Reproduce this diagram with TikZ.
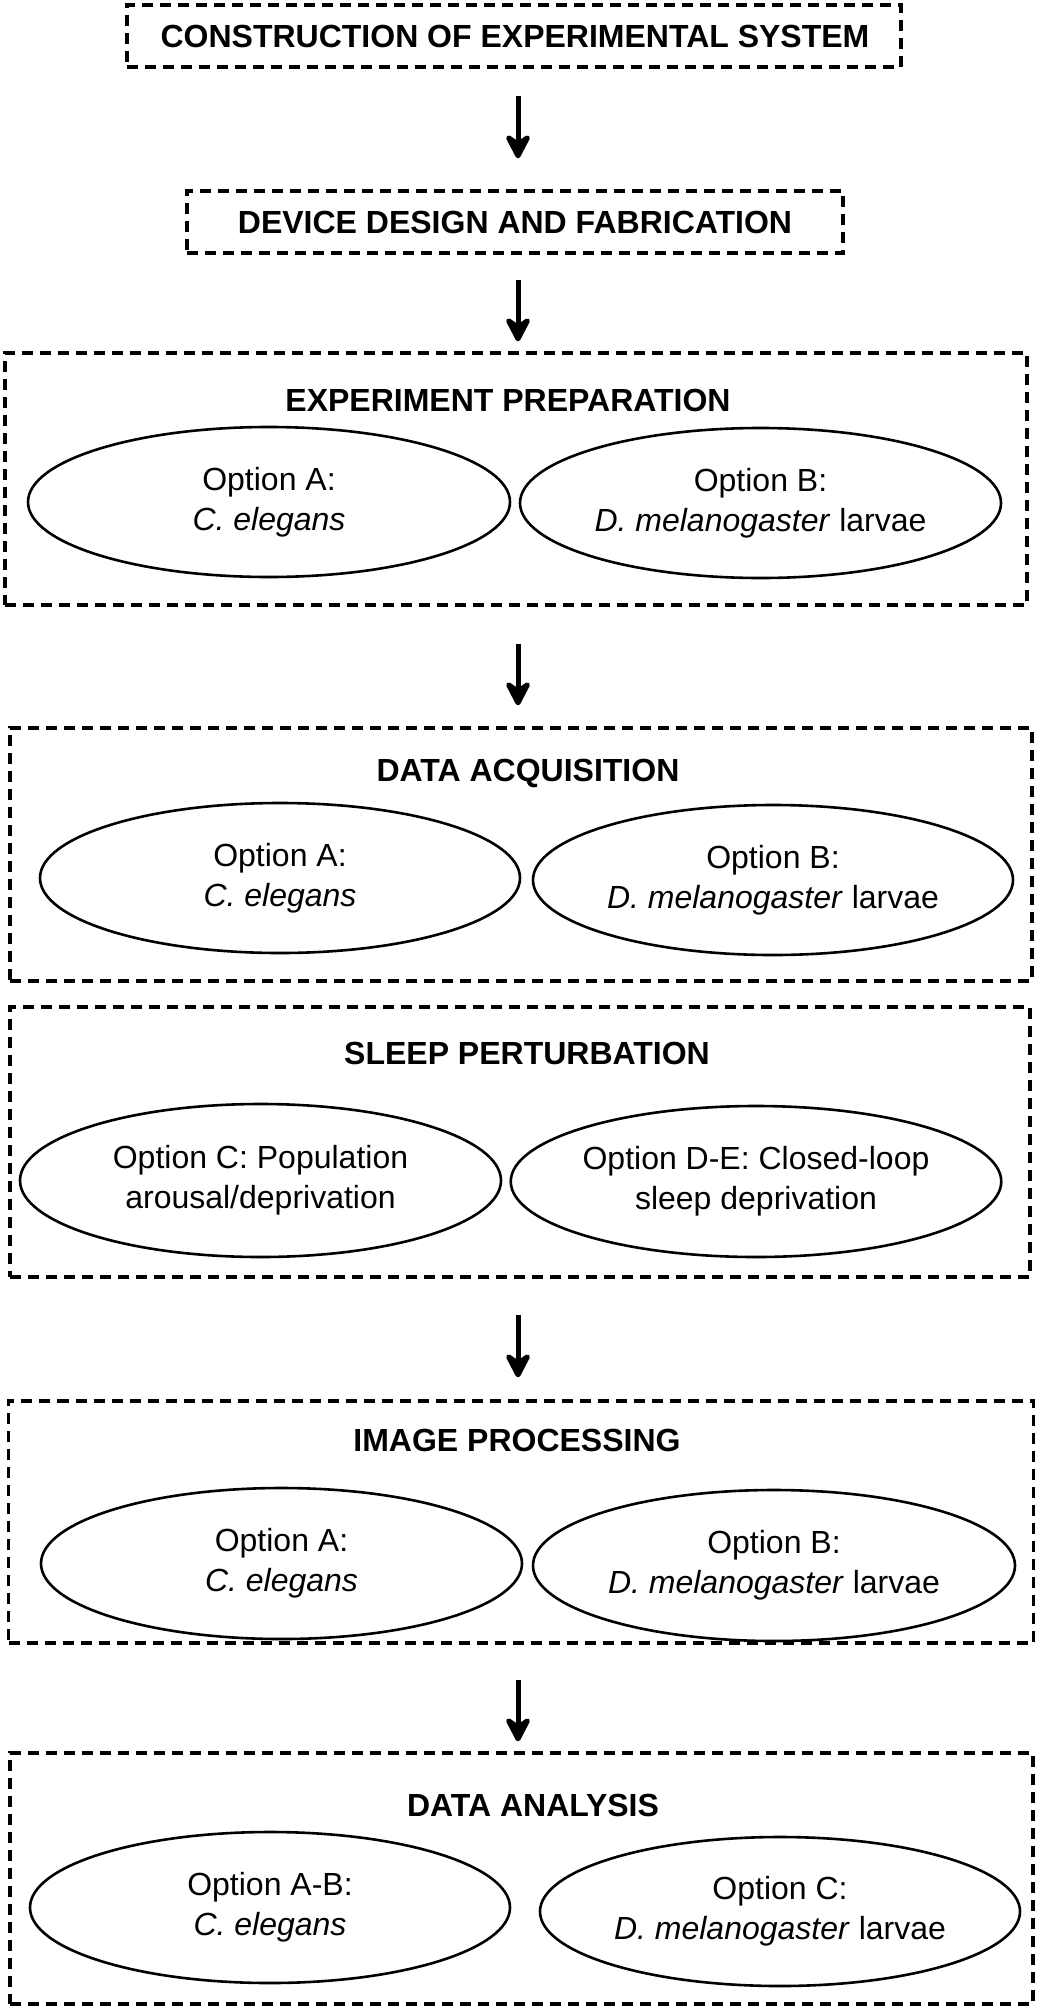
\documentclass[tikz,border=0pt]{standalone}
\usepackage{fontspec}
\setmainfont{Liberation Sans}
\usetikzlibrary{shapes.geometric,arrows.meta,calc}
\newcommand\myoptfont{\fontsize{32}{40}\selectfont}
\newcommand\myttlfont{\fontsize{32}{40}\selectfont\bfseries}
\begin{document}
\begin{tikzpicture}[x=1pt,y=-1pt,
  dbox/.style={draw, rectangle, line width=3.3pt, dash pattern=on 11pt off 7pt, inner sep=0pt},
  opt/.style={draw, ellipse, line width=2.6pt, inner sep=0pt, align=center, font=\myoptfont},
  ttl/.style={anchor=base, inner sep=0pt, font=\myttlfont},
  arr/.style={line width=5pt, -{Stealth[length=31pt,width=32pt,inset=11pt,round]}}]
\useasboundingbox (0,0) rectangle (1036,2010);
\coordinate (ax) at (518,0);

% boxes
\node[dbox, minimum width=774pt, minimum height=62pt] (b1) at (514,36) {};
\node[dbox, minimum width=656pt, minimum height=62pt] (b2) at (515,222) {};
\node[dbox, minimum width=1022pt, minimum height=252pt] (b3) at (516,479) {};
\node[dbox, minimum width=1022pt, minimum height=253pt] (b4) at (521,854.5) {};
\node[dbox, minimum width=1020pt, minimum height=270pt] (b5) at (520,1142) {};
\node[dbox, minimum width=1025pt, minimum height=242pt] (b6) at (521,1522) {};
\node[dbox, minimum width=1023pt, minimum height=251pt] (b7) at (521.5,1878.5) {};

% titles
\node[ttl] (t1) at (515,47.5) {CONSTRUCTION OF EXPERIMENTAL SYSTEM};
\node[ttl] (t2) at (515,233.5) {DEVICE DESIGN AND FABRICATION};
\node[ttl] (t3) at (508,411.5) {EXPERIMENT PREPARATION};
\node[ttl] (t4) at (528,781.5) {DATA ACQUISITION};
\node[ttl] (t5) at (527,1064.5) {SLEEP PERTURBATION};
\node[ttl] (t6) at (517,1451.5) {IMAGE PROCESSING};
\node[ttl] (t7) at (533,1816.5) {DATA ANALYSIS};

% ellipses
\node[opt, minimum width=482pt, minimum height=150pt] (e3l) at (269,502) {Option A:\\\textit{C. elegans}};
\node[opt, minimum width=481pt, minimum height=150pt] (e3r) at (760.5,503) {Option B:\\\textit{D. melanogaster} larvae};
\node[opt, minimum width=480pt, minimum height=150pt] (e4l) at (280,878) {Option A:\\\textit{C. elegans}};
\node[opt, minimum width=480pt, minimum height=150pt] (e4r) at (773,880) {Option B:\\\textit{D. melanogaster} larvae};
\node[opt, minimum width=481pt, minimum height=153pt] (e5l) at (260.5,1180.5) {Option C: Population\\arousal/deprivation};
\node[opt, minimum width=482pt, minimum height=151pt] (e5r) at (756,1181.5) {Option D-E: Closed-loop\\sleep deprivation};
\node[opt, minimum width=481pt, minimum height=151pt] (e6l) at (281.5,1563.5) {Option A:\\\textit{C. elegans}};
\node[opt, minimum width=482pt, minimum height=151pt] (e6r) at (774,1565.5) {Option B:\\\textit{D. melanogaster} larvae};
\node[opt, minimum width=480pt, minimum height=151pt] (e7l) at (270,1907.5) {Option A-B:\\\textit{C. elegans}};
\node[opt, minimum width=480pt, minimum height=149pt] (e7r) at (780,1911.5) {Option C:\\\textit{D. melanogaster} larvae};

% arrows
\draw[arr, shorten <=27pt, shorten >=31pt] (b1.south -| ax) -- (b2.north -| ax);
\draw[arr, shorten <=25pt, shorten >=10pt] (b2.south -| ax) -- (b3.north -| ax);
\draw[arr, shorten <=37pt, shorten >=21pt] (b3.south -| ax) -- (b4.north -| ax);
\draw[arr, shorten <=36pt, shorten >=22pt] (b5.south -| ax) -- (b6.north -| ax);
\draw[arr, shorten <=35pt, shorten >=10pt] (b6.south -| ax) -- (b7.north -| ax);
\end{tikzpicture}
\end{document}
